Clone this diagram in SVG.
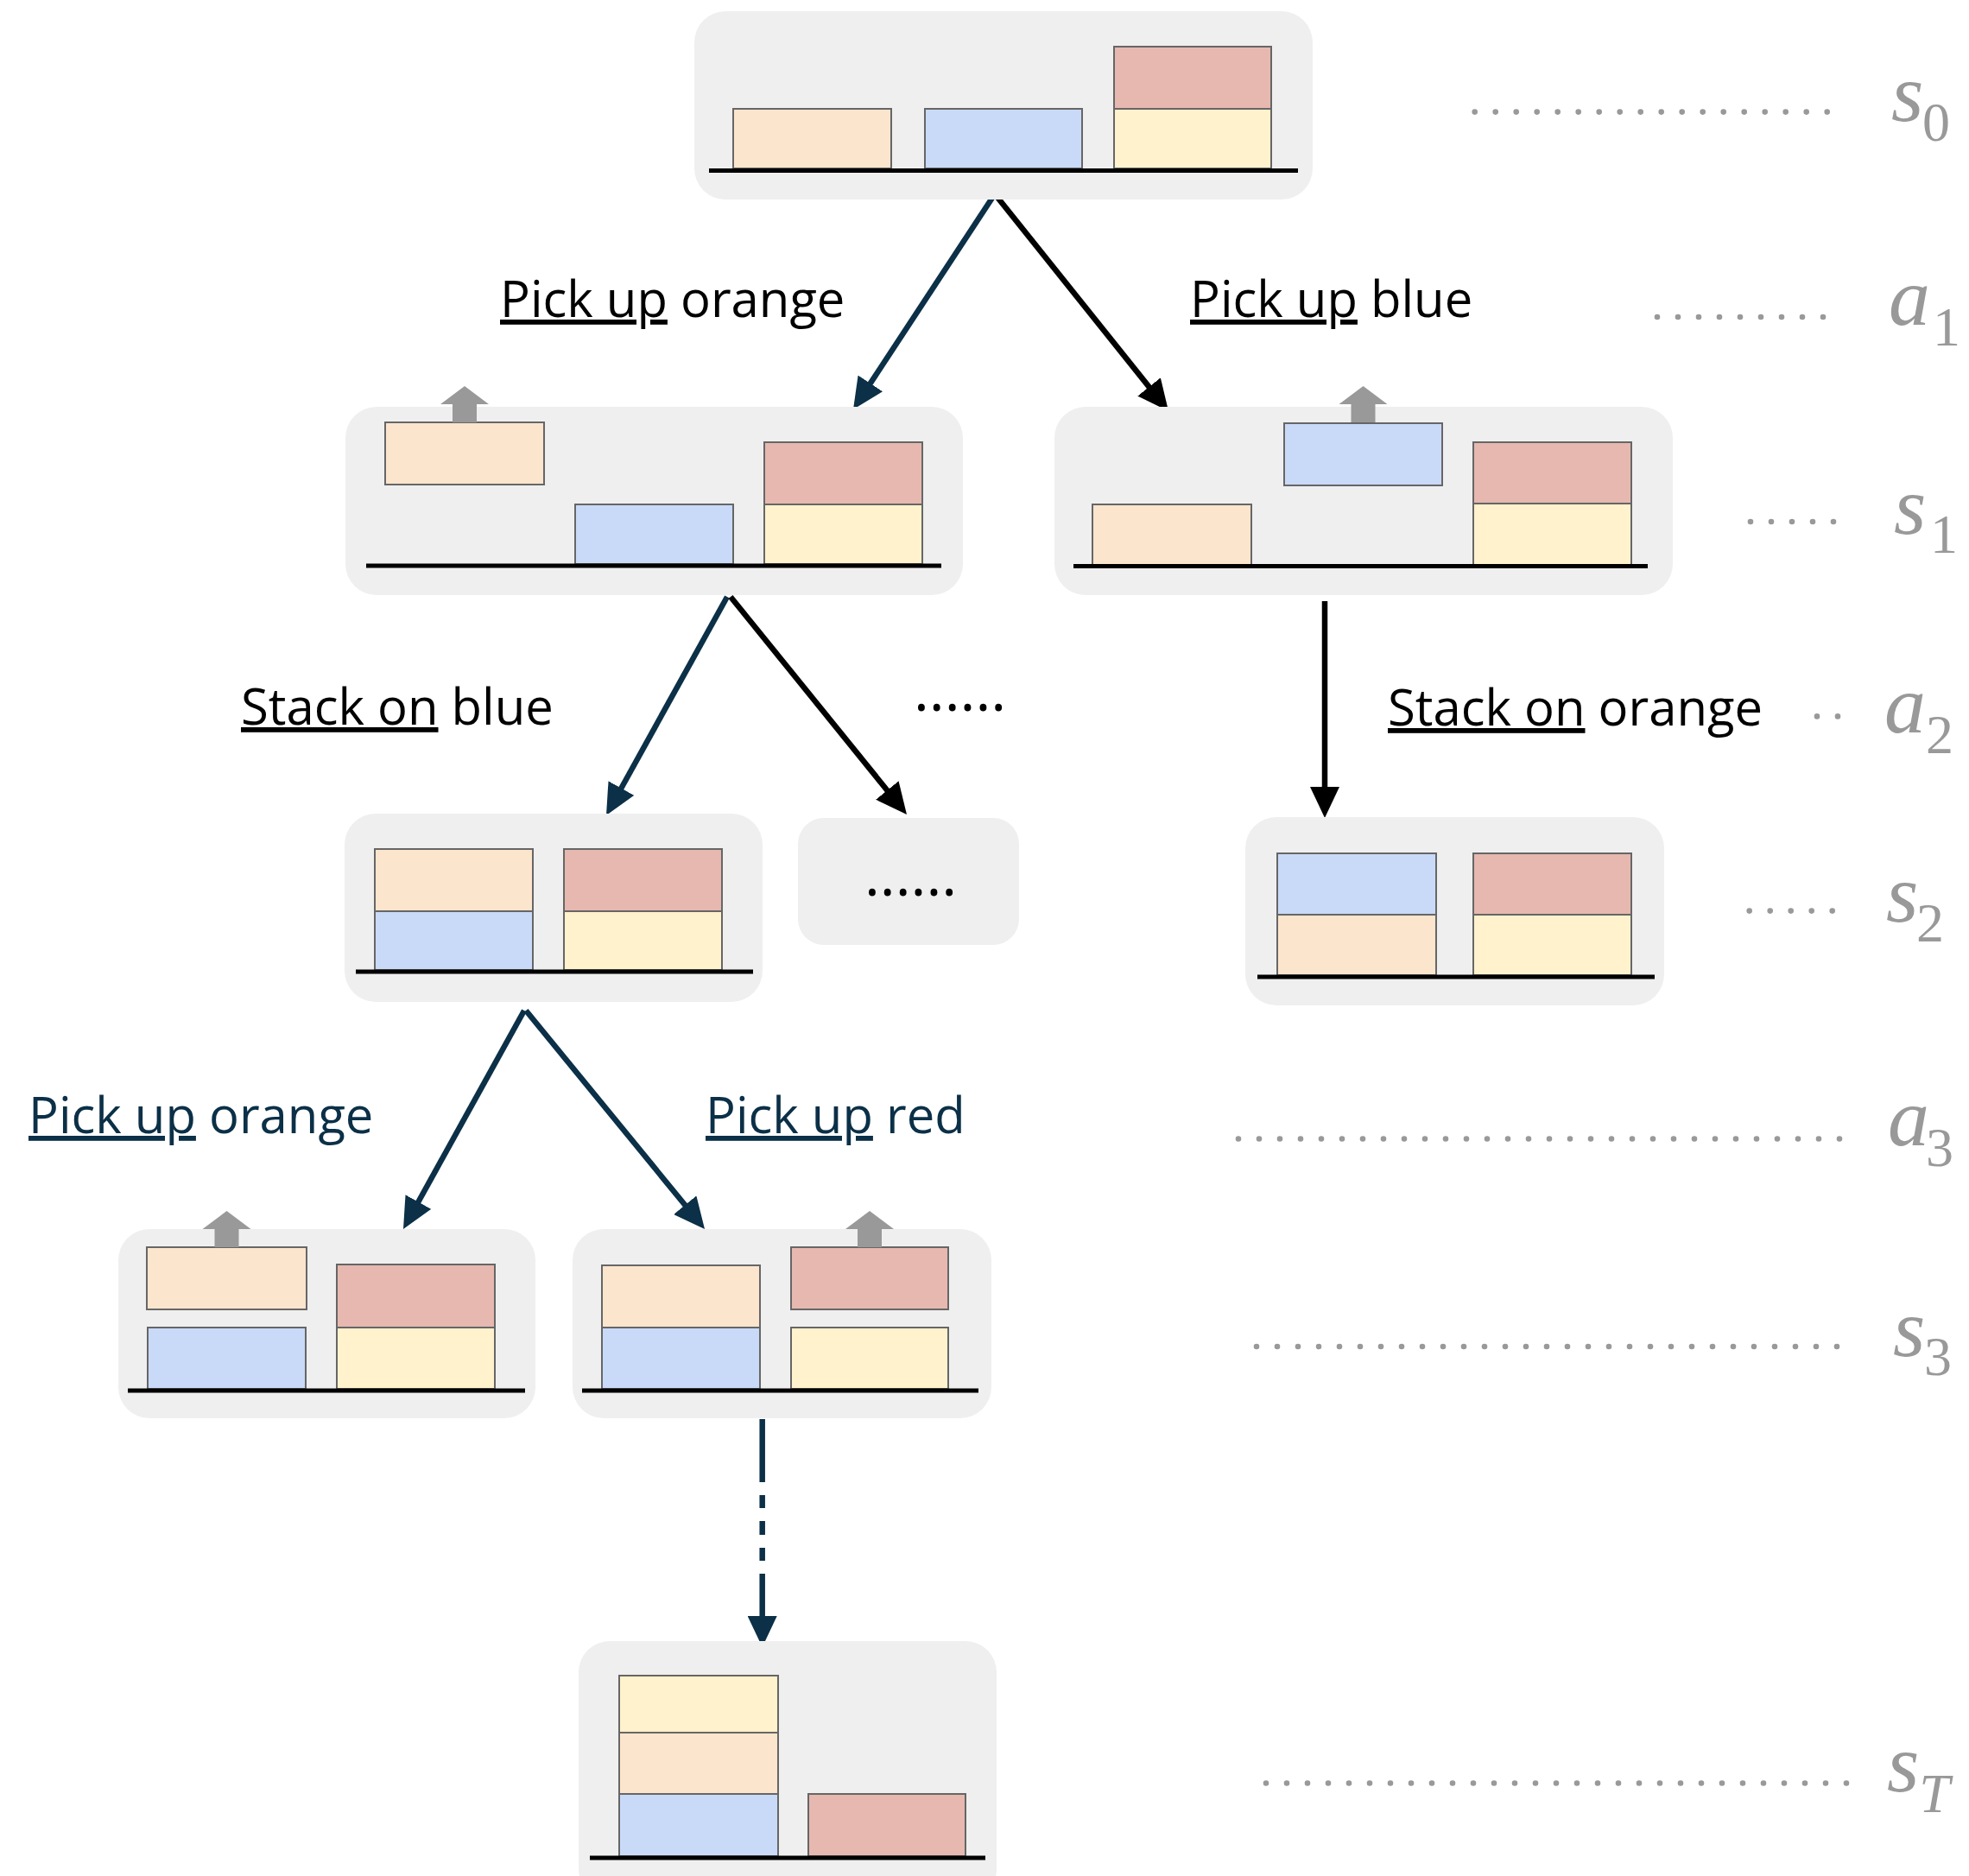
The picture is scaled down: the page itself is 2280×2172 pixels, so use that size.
<svg xmlns="http://www.w3.org/2000/svg" xmlns:xlink="http://www.w3.org/1999/xlink" width="2280" height="2172" viewBox="0 0 2280 2172">
<style>
.node{fill:#efefef}
.floor{stroke:#000;stroke-width:5}
.blk{stroke:#666;stroke-width:2}
.o{fill:#fce5cd}.b{fill:#c9daf8}.y{fill:#fff2cc}.r{fill:#e6b8af}
.lift{fill:#999}
.lbl{font-family:"Open Sans","Noto Sans",sans-serif;font-size:58px;fill:#000}
.lbl.nv{fill:#0b3047}
.dots{font-family:"Open Sans","Noto Sans",sans-serif;font-size:68px;fill:#000}
.math{font-family:"Liberation Serif","DejaVu Serif",serif;fill:#999;font-size:96px;font-style:italic}
.sub{font-size:64px;font-style:normal}
.subi{font-style:italic}
.lead{stroke:#999;stroke-width:6.6;stroke-linecap:round;stroke-dasharray:0 24;fill:none}
.arr{fill:none;stroke-width:6.5}
.k{stroke:#000}.n{stroke:#0b3047}
</style>
<defs>
<marker id="ak" markerUnits="userSpaceOnUse" markerWidth="36" markerHeight="34" viewBox="0 0 36 34" refX="6" refY="17" orient="auto"><path d="M0,0 L36,17 L0,34 Z" fill="#000"/></marker>
<marker id="an" markerUnits="userSpaceOnUse" markerWidth="36" markerHeight="34" viewBox="0 0 36 34" refX="6" refY="17" orient="auto"><path d="M0,0 L36,17 L0,34 Z" fill="#0b3047"/></marker>
<path id="liftarrow" class="lift" d="M0,0 L28,21 L14,21 L14,42 L-14,42 L-14,21 L-28,21 Z"/>
</defs>

<g id="connectors">
<line class="arr n" x1="1151" y1="226" x2="1004.5" y2="448.9" marker-end="url(#an)"/>
<line class="arr k" x1="1153" y1="226" x2="1334.3" y2="452.6" marker-end="url(#ak)"/>
<line class="arr n" x1="842" y1="691" x2="716.5" y2="917.8" marker-end="url(#an)"/>
<line class="arr k" x1="846" y1="691" x2="1031.1" y2="919.7" marker-end="url(#ak)"/>
<line class="arr k" x1="1534" y1="696" x2="1534" y2="917" marker-end="url(#ak)"/>
<line class="arr n" x1="607" y1="1170" x2="481.5" y2="1396.8" marker-end="url(#an)"/>
<line class="arr n" x1="609" y1="1170" x2="797" y2="1399.8" marker-end="url(#an)"/>
<path class="arr n" d="M882.7,1643 V1716 M882.7,1731 V1746 M882.7,1761 V1777 M882.7,1792 V1807 M882.7,1822 V1877" marker-end="url(#an)"/>
</g>

<g id="node-s0">
<rect class="node" x="804" y="13" width="716" height="218" rx="36"/>
<rect class="blk o" x="849" y="126" width="183" height="69"/>
<rect class="blk b" x="1071" y="126" width="182" height="69"/>
<rect class="blk y" x="1290" y="126" width="182" height="69"/>
<rect class="blk r" x="1290" y="54" width="182" height="72"/>
<line class="floor" x1="821" y1="197.5" x2="1503" y2="197.5"/>
</g>

<g id="node-s1-left">
<rect class="node" x="400" y="471" width="715" height="218" rx="36"/>
<rect class="blk o" x="446" y="489" width="184" height="72"/>
<use xlink:href="#liftarrow" x="538" y="447"/>
<rect class="blk b" x="666" y="584" width="183" height="69"/>
<rect class="blk y" x="885" y="584" width="183" height="69"/>
<rect class="blk r" x="885" y="512" width="183" height="72"/>
<line class="floor" x1="424" y1="655" x2="1090" y2="655"/>
</g>

<g id="node-s1-right">
<rect class="node" x="1221" y="471" width="716" height="218" rx="36"/>
<rect class="blk o" x="1265" y="584" width="184" height="70"/>
<rect class="blk b" x="1487" y="490" width="183" height="72"/>
<use xlink:href="#liftarrow" x="1578.5" y="447"/>
<rect class="blk y" x="1706" y="583" width="183" height="71"/>
<rect class="blk r" x="1706" y="512" width="183" height="71"/>
<line class="floor" x1="1243" y1="655.5" x2="1908" y2="655.5"/>
</g>

<g id="node-s2-left">
<rect class="node" x="399" y="942" width="484" height="218" rx="36"/>
<rect class="blk b" x="434" y="1055" width="183" height="68"/>
<rect class="blk o" x="434" y="983" width="183" height="72"/>
<rect class="blk y" x="653" y="1055" width="183" height="68"/>
<rect class="blk r" x="653" y="983" width="183" height="72"/>
<line class="floor" x1="412" y1="1125" x2="872" y2="1125"/>
</g>

<g id="node-more">
<rect class="node" x="924" y="947" width="256" height="147" rx="30"/>
<text class="dots" x="1001" y="1037">......</text>
</g>

<g id="node-s2-right">
<rect class="node" x="1442" y="946" width="485" height="218" rx="36"/>
<rect class="blk o" x="1479" y="1059" width="184" height="70"/>
<rect class="blk b" x="1479" y="988" width="184" height="71"/>
<rect class="blk y" x="1706" y="1059" width="183" height="70"/>
<rect class="blk r" x="1706" y="988" width="183" height="71"/>
<line class="floor" x1="1456" y1="1131" x2="1916" y2="1131"/>
</g>

<g id="node-s3-left">
<rect class="node" x="137" y="1423" width="483" height="219" rx="36"/>
<rect class="blk o" x="170" y="1444" width="185" height="72"/>
<use xlink:href="#liftarrow" x="262.5" y="1402"/>
<rect class="blk b" x="171" y="1537" width="183" height="71"/>
<rect class="blk y" x="390" y="1537" width="183" height="71"/>
<rect class="blk r" x="390" y="1464" width="183" height="73"/>
<line class="floor" x1="148" y1="1610" x2="608" y2="1610"/>
</g>

<g id="node-s3-right">
<rect class="node" x="663" y="1423" width="485" height="219" rx="36"/>
<rect class="blk o" x="697" y="1465" width="183" height="72"/>
<rect class="blk b" x="697" y="1537" width="183" height="71"/>
<rect class="blk r" x="916" y="1444" width="182" height="72"/>
<use xlink:href="#liftarrow" x="1007" y="1402"/>
<rect class="blk y" x="916" y="1537" width="182" height="71"/>
<line class="floor" x1="674" y1="1610" x2="1133" y2="1610"/>
</g>

<g id="node-sT">
<rect class="node" x="670" y="1900" width="484" height="300" rx="36"/>
<rect class="blk y" x="717" y="1940" width="184" height="66"/>
<rect class="blk o" x="717" y="2006" width="184" height="71"/>
<rect class="blk b" x="717" y="2077" width="184" height="72"/>
<rect class="blk r" x="936" y="2077" width="182" height="72"/>
<line class="floor" x1="683" y1="2151" x2="1141" y2="2151"/>
</g>

<g id="action-labels">
<text class="lbl" x="579" y="367"><tspan text-decoration="underline">Pick up</tspan> orange</text>
<text class="lbl" x="1378" y="367"><tspan text-decoration="underline">Pick up</tspan> blue</text>
<text class="lbl" x="279" y="839"><tspan text-decoration="underline">Stack on</tspan> blue</text>
<text class="dots" x="1058" y="823">......</text>
<text class="lbl" x="1607" y="840"><tspan text-decoration="underline">Stack on</tspan> orange</text>
<text class="lbl nv" x="33" y="1312"><tspan text-decoration="underline">Pick up</tspan> orange</text>
<text class="lbl nv" x="817" y="1312"><tspan text-decoration="underline">Pick up</tspan> red</text>
</g>

<g id="step-labels">
<line class="lead" x1="1707.7" y1="129.6" x2="2116.2" y2="129.6"/>
<text class="math" x="2190" y="140">s<tspan class="sub" dx="-1.3" dy="23">0</tspan></text>

<line class="lead" x1="1919" y1="367" x2="2111.5" y2="367"/>
<text class="math" x="2187" y="376">a<tspan class="sub" dx="3" dy="24">1</tspan></text>

<line class="lead" x1="2027" y1="604" x2="2123.5" y2="604"/>
<text class="math" x="2193" y="618">s<tspan class="sub" dx="4.7" dy="22">1</tspan></text>

<line class="lead" x1="2104" y1="829.4" x2="2128.5" y2="829.4"/>
<text class="math" x="2182" y="848">a<tspan class="sub" dx="0" dy="24">2</tspan></text>

<line class="lead" x1="2025.7" y1="1054.6" x2="2122.2" y2="1054.6"/>
<text class="math" x="2184" y="1067">s<tspan class="sub" dx="-2.3" dy="23">2</tspan></text>

<line class="lead" x1="1434" y1="1318.5" x2="2130.5" y2="1318.5"/>
<text class="math" x="2186" y="1326">a<tspan class="sub" dx="-4" dy="24">3</tspan></text>

<line class="lead" x1="1455" y1="1559" x2="2127.5" y2="1559"/>
<text class="math" x="2192" y="1570">s<tspan class="sub" dx="-1.3" dy="22">3</tspan></text>

<line class="lead" x1="1466" y1="2064.5" x2="2138.5" y2="2064.5"/>
<text class="math" x="2185" y="2074">s<tspan class="sub subi" dx="0" dy="24">T</tspan></text>
</g>
</svg>
